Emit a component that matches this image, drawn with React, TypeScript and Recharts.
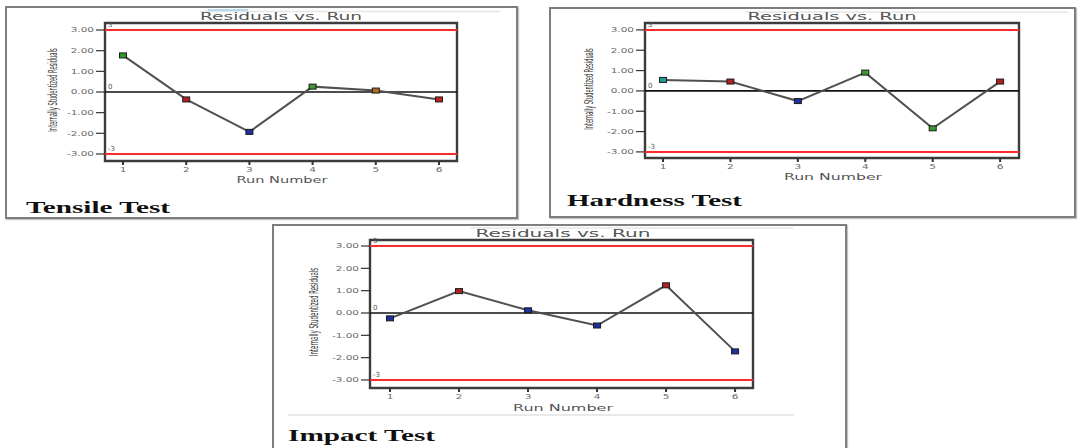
import React from 'react';
import { LineChart, Line, XAxis, YAxis, ReferenceLine, ReferenceArea } from 'recharts';

const runs = [1, 2, 3, 4, 5, 6];
const tensileResiduals = [1.77, -0.36, -1.93, 0.26, 0.07, -0.36];
const hardnessResiduals = [0.54, 0.46, -0.5, 0.9, -1.84, 0.46];
const impactResiduals = [-0.24, 0.98, 0.12, -0.56, 1.24, -1.72];
const yTicks = [-3, -2, -1, 0, 1, 2, 3];
const upperLimit = 3;
const lowerLimit = -3;
const panelTitle = 'Residuals vs. Run';
const xAxisTitle = 'Run Number';
const yAxisTitle = 'Internally Studentized Residuals';
const tensileColors = ['#2a9a2a', '#b02020', '#2030a0', '#3a9a30', '#b07020', '#c02020'];
const hardnessColors = ['#20a090', '#b02020', '#2030a0', '#3a9a30', '#3a9a30', '#b02020'];
const impactColors = ['#2030a0', '#b02020', '#2030a0', '#2030a0', '#b02020', '#2030a0'];

const FONT = '"DejaVu Sans", Verdana, sans-serif';

const YTick = (props: any) => {
  const { x, y, payload } = props;
  return (
    <g transform={`translate(${x},${y})`}>
      <text textAnchor="end" dy="0.35em" fontSize={7} fill="#6a6a6a" fontFamily={FONT} transform="scale(1.5,1)">
        {Number(payload.value).toFixed(2)}
      </text>
    </g>
  );
};

const XTick = (props: any) => {
  const { x, y, payload } = props;
  return (
    <g transform={`translate(${x},${y})`}>
      <text textAnchor="middle" dy="0.71em" fontSize={7} fill="#6a6a6a" fontFamily={FONT} transform="scale(1.5,1)">
        {payload.value}
      </text>
    </g>
  );
};

type PanelProps = {
  residuals: number[];
  colors: string[];
  plot: { left: number; top: number; width: number; height: number };
  xDomain: [number, number];
  yDomain: [number, number];
};

const Panel = ({ residuals, colors, plot, xDomain, yDomain }: PanelProps) => {
  const data = runs.map((r, i) => ({ run: r, residual: residuals[i] }));
  const limitLabel = (v: string) => ({
    value: v,
    position: 'insideBottomLeft' as const,
    offset: 3,
    fontSize: 7,
    fill: '#555',
    fontFamily: FONT,
  });
  return (
    <div style={{ position: 'absolute', left: plot.left - 80, top: plot.top - 20 }}>
      <LineChart
        width={plot.width + 100}
        height={plot.height + 60}
        data={data}
        margin={{ top: 20, right: 20, left: 20, bottom: 10 }}
      >
        <XAxis
          dataKey="run"
          type="number"
          domain={xDomain}
          allowDataOverflow
          ticks={runs}
          interval={0}
          height={30}
          axisLine={false}
          tickSize={4}
          tickMargin={2}
          tickLine={{ stroke: '#333', strokeWidth: 2 }}
          tick={<XTick />}
        />
        <YAxis
          type="number"
          domain={yDomain}
          allowDataOverflow
          ticks={yTicks}
          interval={0}
          width={60}
          axisLine={false}
          tickSize={9}
          tickMargin={2}
          tickLine={{ stroke: '#333', strokeWidth: 1.2 }}
          tick={<YTick />}
        />
        <ReferenceLine y={upperLimit} stroke="#ff2b2b" strokeWidth={2} label={limitLabel('3')} />
        <ReferenceLine y={0} stroke="#111" strokeWidth={1.6} label={limitLabel('0')} />
        <ReferenceLine y={lowerLimit} stroke="#ff2b2b" strokeWidth={2} label={limitLabel('-3')} />
        <ReferenceArea
          x1={xDomain[0]}
          x2={xDomain[1]}
          y1={yDomain[0]}
          y2={yDomain[1]}
          fill="none"
          fillOpacity={0}
          stroke="#3c3c3c"
          strokeWidth={2.4}
          ifOverflow="visible"
        />
        <Line
          dataKey="residual"
          stroke="#505050"
          strokeWidth={2}
          isAnimationActive={false}
          activeDot={false}
          dot={(p: any) => (
            <rect
              key={`d-${p.index}`}
              x={p.cx - 3.5}
              y={p.cy - 2.5}
              width={7}
              height={5}
              fill={colors[p.index]}
              stroke="#1a1a1a"
              strokeWidth={1}
            />
          )}
        />
      </LineChart>
    </div>
  );
};

const boxStyle = (left: number, top: number, width: number, height: number): React.CSSProperties => ({
  position: 'absolute',
  left,
  top,
  width,
  height,
  boxSizing: 'border-box',
  border: '2px solid #7e7e7e',
  boxShadow: '1px 1px 1px #c4c4c4',
  background: '#fff',
});

const Texts = () => {
  const title = (cx: number, y: number, len: number) => (
    <text x={cx} y={y} textAnchor="middle" fontSize={10.5} fill="#555" fontFamily={FONT} textLength={len} lengthAdjust="spacingAndGlyphs">
      {panelTitle}
    </text>
  );
  const xlab = (cx: number, y: number, len: number) => (
    <text x={cx} y={y} textAnchor="middle" fontSize={9} fill="#555" fontFamily={FONT} textLength={len} lengthAdjust="spacingAndGlyphs">
      {xAxisTitle}
    </text>
  );
  const ylab = (x: number, cy: number, sx: number) => (
    <text
      transform={`translate(${x},${cy}) rotate(-90) scale(${sx},1)`}
      textAnchor="middle"
      fontSize={12}
      fill="#333"
      fontFamily='"DejaVu Sans Condensed", "Liberation Sans Narrow", sans-serif'
    >
      {yAxisTitle}
    </text>
  );
  const caption = (x: number, y: number, len: number, s: string) => (
    <text x={x} y={y} fontSize={17} fontWeight="bold" fill="#111" fontFamily='"Liberation Serif", "Times New Roman", serif' textLength={len} lengthAdjust="spacingAndGlyphs">
      {s}
    </text>
  );
  return (
    <svg width={1081} height={448} style={{ position: 'absolute', left: 0, top: 0, pointerEvents: 'none' }}>
      <line x1={200} y1={11.5} x2={500} y2={11.5} stroke="#e6e6e6" strokeWidth={1.5} />
      <line x1={208} y1={10} x2={248} y2={10} stroke="#9fd0ea" strokeWidth={1.5} />
      <line x1={745} y1={12} x2={1068} y2={12} stroke="#e6e6e6" strokeWidth={1.5} />
      <line x1={470} y1={228} x2={793} y2={228} stroke="#e6e6e6" strokeWidth={1.5} />
      <line x1={288} y1={415} x2={794} y2={415} stroke="#e2e2e2" strokeWidth={1.5} />
      {title(281, 20, 162)}
      {title(832, 20, 169)}
      {title(563, 237, 175)}
      {xlab(282, 183, 91)}
      {xlab(833, 180, 98)}
      {xlab(563, 411, 100)}
      {ylab(57, 90, 0.48)}
      {ylab(593, 89, 0.47)}
      {ylab(318, 312, 0.51)}
      {caption(26, 213, 144, 'Tensile Test')}
      {caption(567, 206, 175, 'Hardness Test')}
      {caption(288, 441, 147, 'Impact Test')}
    </svg>
  );
};

export default function App() {
  return (
    <div style={{ position: 'absolute', left: 0, top: 0, width: 1081, height: 448, overflow: 'hidden', background: '#fff' }}>
      <div style={boxStyle(5, 6, 513, 213)} />
      <div style={boxStyle(549, 7, 527, 211)} />
      <div style={boxStyle(272, 224, 575, 240)} />
      <Panel
        residuals={tensileResiduals}
        colors={tensileColors}
        plot={{ left: 105, top: 23, width: 352, height: 138 }}
        xDomain={[0.715, 6.285]}
        yDomain={[-3.34, 3.34]}
      />
      <Panel
        residuals={hardnessResiduals}
        colors={hardnessColors}
        plot={{ left: 645, top: 23, width: 374, height: 135 }}
        xDomain={[0.733, 6.28]}
        yDomain={[-3.3, 3.34]}
      />
      <Panel
        residuals={impactResiduals}
        colors={impactColors}
        plot={{ left: 370, top: 240, width: 383, height: 148 }}
        xDomain={[0.71, 6.26]}
        yDomain={[-3.36, 3.27]}
      />
      <Texts />
    </div>
  );
}
